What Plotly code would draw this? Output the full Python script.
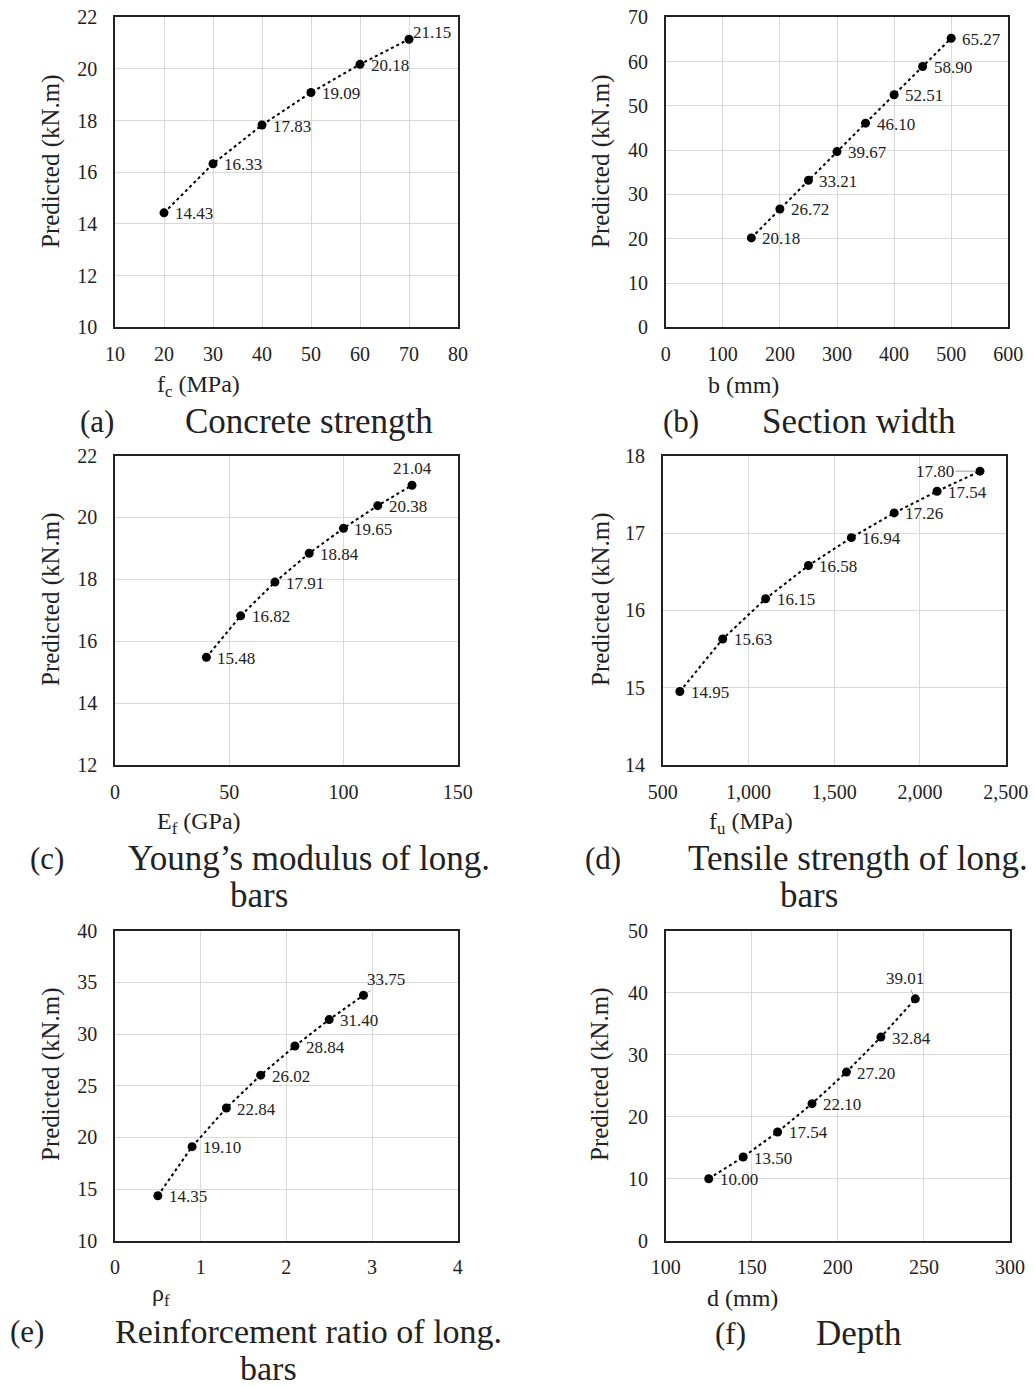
import plotly.graph_objects as go
from plotly.subplots import make_subplots

# ---------------- data ----------------
fc_x = [20, 30, 40, 50, 60, 70]
fc_y = [14.43, 16.33, 17.83, 19.09, 20.18, 21.15]

b_x = [150, 200, 250, 300, 350, 400, 450, 500]
b_y = [20.18, 26.72, 33.21, 39.67, 46.10, 52.51, 58.90, 65.27]

ef_x = [40, 55, 70, 85, 100, 115, 130]
ef_y = [15.48, 16.82, 17.91, 18.84, 19.65, 20.38, 21.04]

fu_x = [600, 850, 1100, 1350, 1600, 1850, 2100, 2350]
fu_y = [14.95, 15.63, 16.15, 16.58, 16.94, 17.26, 17.54, 17.80]

rho_x = [0.5, 0.9, 1.3, 1.7, 2.1, 2.5, 2.9]
rho_y = [14.35, 19.10, 22.84, 26.02, 28.84, 31.40, 33.75]

d_x = [125, 145, 165, 185, 205, 225, 245]
d_y = [10.00, 13.50, 17.54, 22.10, 27.20, 32.84, 39.01]

x_titles = ["f<sub>c</sub> (MPa)", "b (mm)", "E<sub>f</sub> (GPa)",
            "f<sub>u</sub> (MPa)", "ρ<sub>f</sub>", "d (mm)"]
y_title = "Predicted (kN.m)"
tags = ["(a)", "(b)", "(c)", "(d)", "(e)", "(f)"]
captions = [["Concrete strength"], ["Section width"],
            ["Young’s modulus of long.", "bars"],
            ["Tensile strength of long.", "bars"],
            ["Reinforcement ratio of long.", "bars"],
            ["Depth"]]

x_ranges = [(10, 80, 10), (0, 600, 100), (0, 150, 50), (500, 2500, 500), (0, 4, 1), (100, 300, 50)]
y_ranges = [(10, 22, 2), (0, 70, 10), (12, 22, 2), (14, 18, 1), (10, 40, 5), (0, 50, 10)]

series = [(fc_x, fc_y), (b_x, b_y), (ef_x, ef_y), (fu_x, fu_y), (rho_x, rho_y), (d_x, d_y)]

# ---------------- layout geometry (pixels) ----------------
W, H = 1035, 1386
# plot-area boxes: left, right, top, bottom
boxes = [(115, 458, 17.3, 327.3), (665.7, 1008.3, 17.3, 327.3),
         (115, 457.7, 455.5, 765), (662.7, 1005.7, 455.7, 765),
         (115, 457.7, 930.7, 1240.7), (665.7, 1010, 930.7, 1240.7)]


def px(x):
    return x / W


def py(y):
    return 1 - y / H


FONT = "Liberation Serif"
fig = make_subplots(rows=3, cols=2)

annotations = []
for i, ((xs, ys), box) in enumerate(zip(series, boxes)):
    r, c = i // 2 + 1, i % 2 + 1
    fig.add_trace(go.Scatter(x=xs, y=ys, mode="lines+markers",
                             line=dict(color="black", width=2, dash="dot"),
                             marker=dict(color="black", size=9),
                             showlegend=False, hoverinfo="skip"), row=r, col=c)
    l, rr, t, b = box
    xa = "xaxis" if i == 0 else f"xaxis{i+1}"
    ya = "yaxis" if i == 0 else f"yaxis{i+1}"
    x0, x1, dx = x_ranges[i]
    y0, y1, dy = y_ranges[i]
    fig.layout[xa].update(domain=[px(l), px(rr)], range=[x0, x1], dtick=dx, tick0=x0,
                          automargin=False,
                          showgrid=True, gridcolor="#d9d9d9", gridwidth=1,
                          showline=True, linecolor="#222", linewidth=1.5, mirror=True,
                          zeroline=False, ticks="", ticklabelstandoff=8,
                          tickformat=",d" if i == 3 else None,
                          tickfont=dict(family=FONT, size=20, color="#222"))
    fig.layout[ya].update(domain=[py(b), py(t)], range=[y0, y1], dtick=dy, tick0=y0,
                          automargin=False,
                          showgrid=True, gridcolor="#d9d9d9", gridwidth=1,
                          showline=True, linecolor="#222", linewidth=1.5, mirror=True,
                          zeroline=False, ticks="", ticklabelstandoff=12,
                          tickfont=dict(family=FONT, size=20, color="#222"))

    xref = "x" if i == 0 else f"x{i+1}"
    yref = "y" if i == 0 else f"y{i+1}"
    n = len(xs)
    for j, (xv, yv) in enumerate(zip(xs, ys)):
        a = dict(x=xv, y=yv, xref=xref, yref=yref, text=f"{yv:.2f}", showarrow=False,
                 font=dict(family=FONT, size=17, color="#222"),
                 xanchor="left", yanchor="middle", xshift=9, yshift=-1)
        last = j == n - 1
        if last and i == 0:
            a.update(xshift=2, yshift=7)
        if last and i == 2:
            a.update(xanchor="center", xshift=0, yshift=17)
        if last and i == 3:
            a = dict(x=xv, y=yv, xref=xref, yref=yref, text=f"{yv:.2f}", showarrow=True,
                     arrowhead=0, arrowwidth=1, arrowcolor="#999", ax=-45, ay=0, standoff=4,
                     font=dict(family=FONT, size=17, color="#222"))
        if last and i == 4:
            a = dict(x=xv, y=yv, xref=xref, yref=yref, text=f"{yv:.2f}", showarrow=True,
                     arrowhead=0, arrowwidth=1, arrowcolor="#999", ax=23, ay=-16, standoff=4,
                     font=dict(family=FONT, size=17, color="#222"))
        if last and i == 5:
            a = dict(x=xv, y=yv, xref=xref, yref=yref, text=f"{yv:.2f}", showarrow=True,
                     arrowhead=0, arrowwidth=1, arrowcolor="#999", ax=-10, ay=-20, standoff=4,
                     font=dict(family=FONT, size=17, color="#222"))
        annotations.append(a)

# axis titles (x), positioned as in reference
x_title_pos = [(155, 386), (706, 385), (155, 823), (707, 823), (150, 1295), (705, 1298)]
for txt, (xp, yp) in zip(x_titles, x_title_pos):
    annotations.append(dict(x=px(xp), y=py(yp), xref="paper", yref="paper", text=txt,
                            showarrow=False, xanchor="left", yanchor="middle",
                            font=dict(family=FONT, size=24, color="#222")))

# y titles
y_title_pos = [(51, 161), (601, 161), (51, 599), (601, 599), (51, 1074), (600, 1074)]
for (xp, yp) in y_title_pos:
    annotations.append(dict(x=px(xp), y=py(yp), xref="paper", yref="paper", text=y_title,
                            textangle=-90, showarrow=False, xanchor="center", yanchor="middle",
                            font=dict(family=FONT, size=25, color="#222")))

# captions
tag_pos = [(97, 421), (681, 421), (47, 858), (603, 858), (27, 1331), (730, 1333)]
cap_pos = [[(309, 421)], [(859, 421)],
           [(309, 858), (259, 895)],
           [(858, 858), (809, 895)],
           [(308, 1331), (268, 1368)],
           [(859, 1333)]]
cap_sizes = [35, 35, 35, 35, 34, 35]
for tag, (tx, ty), caps, cps, cs in zip(tags, tag_pos, captions, cap_pos, cap_sizes):
    annotations.append(dict(x=px(tx), y=py(ty), xref="paper", yref="paper", text=tag,
                            showarrow=False, xanchor="center", yanchor="middle",
                            font=dict(family=FONT, size=31, color="#222")))
    for ctext, (cx, cy) in zip(caps, cps):
        annotations.append(dict(x=px(cx), y=py(cy), xref="paper", yref="paper", text=ctext,
                                showarrow=False, xanchor="center", yanchor="middle",
                                font=dict(family=FONT, size=cs, color="#222")))

fig.update_layout(width=W, height=H, margin=dict(l=0, r=0, t=0, b=0, autoexpand=False),
                  paper_bgcolor="white", plot_bgcolor="white",
                  annotations=annotations, showlegend=False)

fig.write_html("out.html")
